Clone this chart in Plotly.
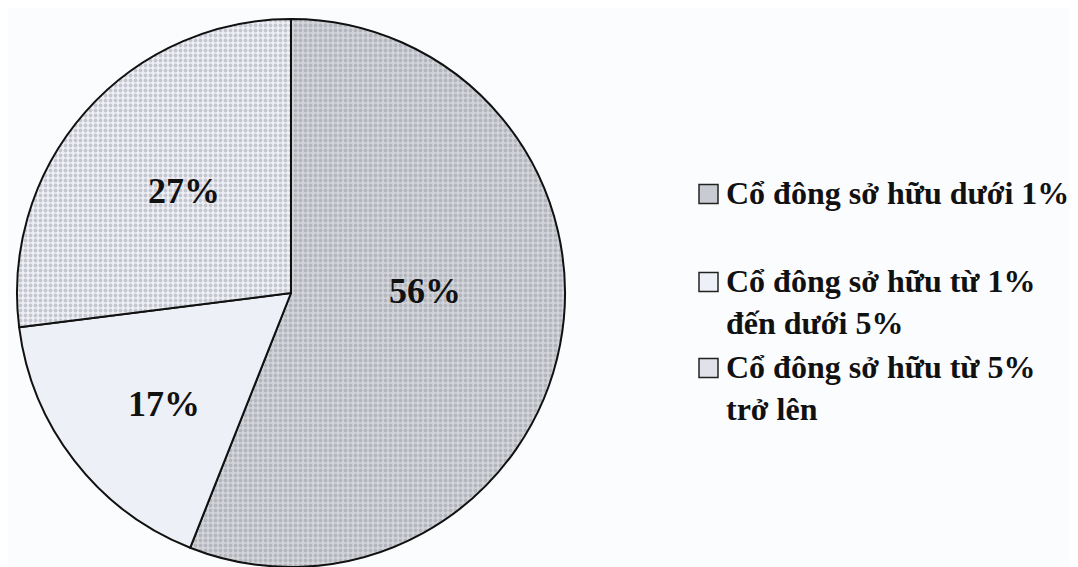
import plotly.graph_objects as go

labels = ["Cổ đông sở hữu dưới 1%",
          "Cổ đông sở hữu từ 1%<br>đến dưới 5%",
          "Cổ đông sở hữu từ 5%<br>trở lên"]
values = [56, 17, 27]
text_labels = ["56%", "17%", "27%"]

fills = ["#c9cbd2", "#eef0f7", "#e0e1e9"]
pat_shape = [".", "", "."]
pat_bg = ["#d3d5db", "#eef0f7", "#eef0f5"]
pat_fg = ["#b3b6bd", "#eef0f7", "#c4c6d0"]

W, H = 1078, 567
OFF = 8  # page body margin
cx, cy, r = 291 - OFF, 293 - OFF, 274

# label positions (screen pixels) for the percentage texts
lab_pos = [(425, 291), (164, 404), (184, 191)]

fig = go.Figure()
fig.add_trace(go.Pie(
    labels=labels, values=values, text=text_labels,
    textinfo="none",
    sort=False, direction="clockwise", rotation=0,
    marker=dict(colors=fills, line=dict(color="#111111", width=2),
                pattern=dict(shape=pat_shape, bgcolor=pat_bg, fgcolor=pat_fg,
                             size=5, solidity=0.45)),
    showlegend=False, hoverinfo="label+percent",
    domain=dict(x=[(cx - r) / W, (cx + r) / W], y=[1 - (cy + r) / H, 1 - (cy - r) / H]),
))

for t, (px, py) in zip(text_labels, lab_pos):
    fig.add_annotation(xref="paper", yref="paper", x=(px - OFF) / W, y=1 - (py - OFF) / H,
                       xanchor="center", yanchor="middle", showarrow=False,
                       text="<b>" + t + "</b>",
                       font=dict(family="Liberation Serif", size=36, color="#111111"))

# custom legend
leg_y = [194, 282, 368]
sq = 19
for i, lab in enumerate(labels):
    y = leg_y[i] - OFF
    x0 = 699 - OFF
    fig.add_shape(type="rect", xref="paper", yref="paper",
                  x0=x0 / W, x1=(x0 + sq) / W,
                  y0=1 - (y + sq / 2) / H, y1=1 - (y - sq / 2) / H,
                  fillcolor=fills[i], line=dict(color="#222222", width=1.5))
    fig.add_annotation(xref="paper", yref="paper", x=(724 - OFF) / W, y=1 - (y - 21) / H,
                       xanchor="left", yanchor="top", align="left", showarrow=False,
                       text="<b>" + lab + "</b>",
                       font=dict(family="Liberation Serif", size=32, color="#111111"))

fig.update_layout(width=W, height=H, margin=dict(l=0, r=0, t=0, b=0),
                  paper_bgcolor="#fbfcfe", plot_bgcolor="#fbfcfe")
fig.write_html("out.html")
